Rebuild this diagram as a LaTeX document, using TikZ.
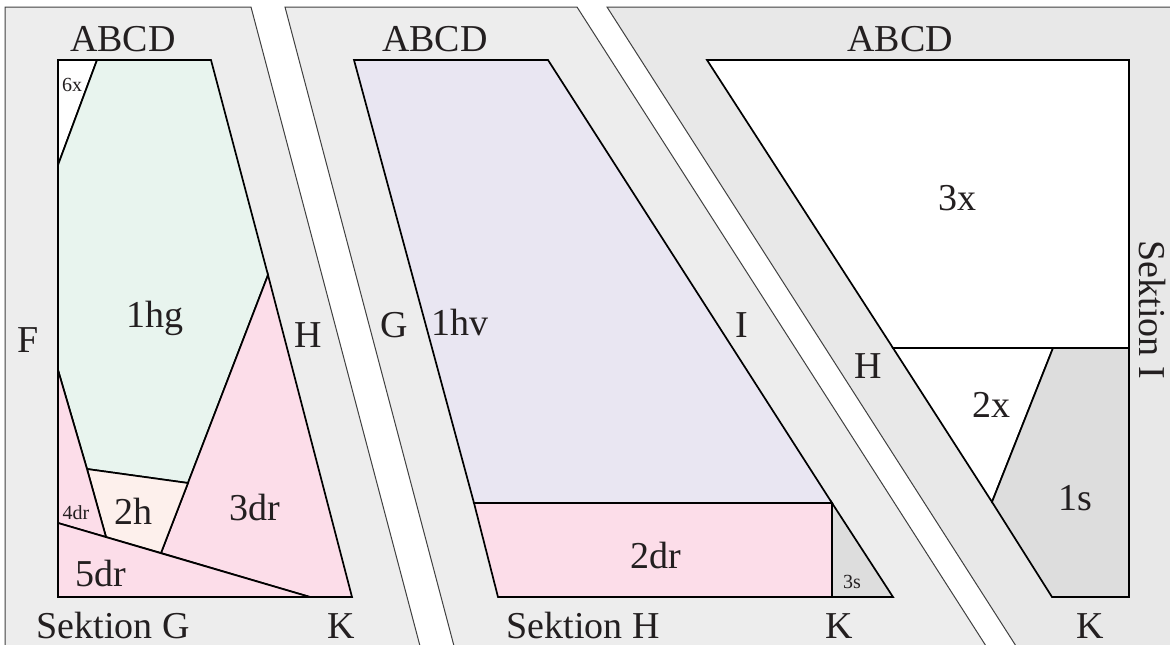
\documentclass[tikz,border=0pt]{standalone}
\usepackage{fontspec}
\setmainfont{Liberation Serif}
\definecolor{panelA}{HTML}{EDEDED}
\definecolor{panelB}{HTML}{E8E8E8}
\definecolor{edgegray}{HTML}{404040}
\definecolor{hgreen}{HTML}{E8F4EE}
\definecolor{drpink}{HTML}{FCDDE9}
\definecolor{hpeach}{HTML}{FDF0EC}
\definecolor{hvpurple}{HTML}{E9E6F2}
\definecolor{sgray}{HTML}{DDDDDD}
\definecolor{txt}{HTML}{231F20}
\tikzset{
  paneledge/.style={draw=edgegray, line width=1pt},
  part/.style={draw=black, line width=1.7pt, line join=miter},
  big/.style={text=txt, inner sep=0pt, anchor=base, font=\fontsize{38}{38}\selectfont},
  small/.style={text=txt, inner sep=0pt, anchor=base, font=\fontsize{20}{20}\selectfont}
}
\begin{document}
\begin{tikzpicture}[x=1pt,y=-1pt]
\useasboundingbox (0,0) rectangle (1170,645);
% panels
\fill[panelA] (5,646) -- (5,7) -- (251,7) -- (420,646) -- cycle;
\draw[paneledge] (5,646) -- (5,7) -- (251,7) -- (420,646);
\fill[panelA] (454,646) -- (285,7) -- (577,7) -- (986,646) -- cycle;
\draw[paneledge] (454,646) -- (285,7) -- (577,7) -- (986,646);
\fill[panelB] (1016,646) -- (607,7) -- (1172,7) -- (1172,646) -- cycle;
\draw[paneledge] (1016,646) -- (607,7) -- (1172,7);
% Sektion G parts
\filldraw[part, fill=white] (58,60) -- (97,60) -- (58,165) -- cycle;
\filldraw[part, fill=hgreen] (97,60) -- (211,60) -- (268,275) -- (188,483) -- (87,469) -- (58,370) -- (58,165) -- cycle;
\filldraw[part, fill=drpink] (268,275) -- (352,597) -- (310,597) -- (161,553) -- cycle;
\filldraw[part, fill=hpeach] (87,469) -- (188,483) -- (161,553) -- (106,537) -- cycle;
\filldraw[part, fill=drpink] (58,370) -- (87,469) -- (106,537) -- (58,523) -- cycle;
\filldraw[part, fill=drpink] (58,523) -- (310,597) -- (58,597) -- cycle;
% Sektion H parts
\filldraw[part, fill=hvpurple] (354,60) -- (548,60) -- (832,503) -- (474,503) -- cycle;
\filldraw[part, fill=drpink] (474,503) -- (832,503) -- (832,597) -- (498,597) -- cycle;
\filldraw[part, fill=sgray] (832,503) -- (893,597) -- (832,597) -- cycle;
% Sektion I parts
\filldraw[part, fill=white] (707,60) -- (1129,60) -- (1129,348) -- (893,348) -- cycle;
\filldraw[part, fill=white] (893,348) -- (1053,348) -- (992,502) -- cycle;
\filldraw[part, fill=sgray] (1053,348) -- (1129,348) -- (1129,597) -- (1052,597) -- (992,502) -- cycle;
% labels Sektion G
\node[big] (abcdG) at (123,51) {ABCD};
\node[small] (l6x) at (72,91) {6x};
\node[big] (l1hg) at (155,327) {1hg};
\node[big] (lF) at (28,352) {F};
\node[big] (lHG) at (308,347) {H};
\node[small] (l4dr) at (76,519) {4dr};
\node[big] (l2h) at (133,524) {2h};
\node[big] (l3dr) at (255,520) {3dr};
\node[big] (l5dr) at (101,586) {5dr};
\node[big] (secG) at (113,638) {Sektion G};
\node[big] (lKG) at (341,638) {K};
% labels Sektion H
\node[big] (abcdH) at (435,51) {ABCD};
\node[big] (lG) at (394,337) {G};
\node[big] (l1hv) at (460,335) {1hv};
\node[big] (lI) at (742,337) {I};
\node[big] (l2dr) at (656,568) {2dr};
\node[small] (l3s) at (852,588) {3s};
\node[big] (secH) at (583,638) {Sektion H};
\node[big] (lKH) at (839,638) {K};
% labels Sektion I
\node[big] (abcdI) at (900,51) {ABCD};
\node[big] (l3x) at (957,210) {3x};
\node[big] (lHI) at (868,378) {H};
\node[big] (l2x) at (991,417) {2x};
\node[big] (l1s) at (1075,510) {1s};
\node[big] (lKI) at (1090,638) {K};
\node[text=txt, inner sep=0pt, rotate=-90, font=\fontsize{38}{38}\selectfont] (secI) at (1152,310) {Sektion I};
\end{tikzpicture}
\end{document}
